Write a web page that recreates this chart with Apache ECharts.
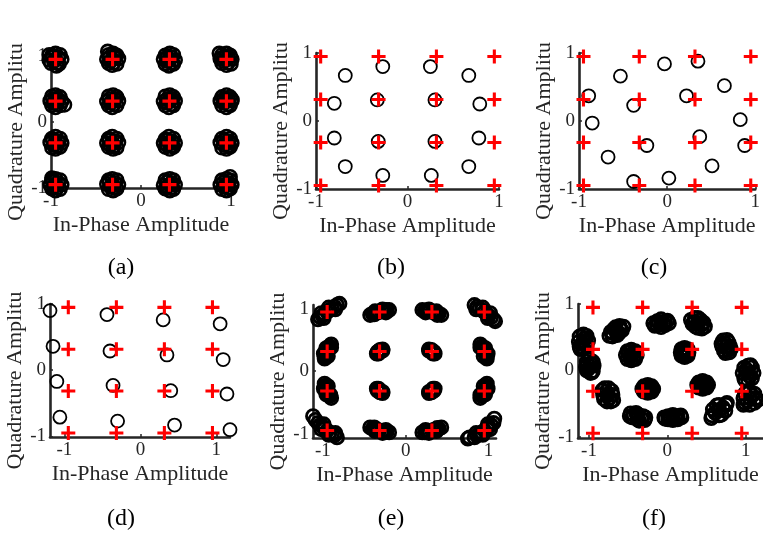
<!DOCTYPE html>
<html>
<head>
<meta charset="utf-8">
<script src="https://cdn.jsdelivr.net/npm/echarts@6/dist/echarts.min.js"></script>
<style>
html, body { margin: 0; padding: 0; background: #fff; }
#main { width: 763px; height: 533px; }
</style>
</head>
<body>
<div id="main"></div>
<script>
var tickValues = [-1, 0, 1];
var panelLabels = ['(a)', '(b)', '(c)', '(d)', '(e)', '(f)'];
var xTitle = 'In-Phase Amplitude';
var yTitle = 'Quadrature Amplitude';

// ideal 16-QAM constellation (red +)
var refPoints = [
    [-0.949, 0.949], [-0.316, 0.949], [0.316, 0.949], [0.949, 0.949],
    [-0.949, 0.316], [-0.316, 0.316], [0.316, 0.316], [0.949, 0.316],
    [-0.949, -0.316], [-0.316, -0.316], [0.316, -0.316], [0.949, -0.316],
    [-0.949, -0.949], [-0.316, -0.949], [0.316, -0.949], [0.949, -0.949]
];

// (a) received symbols, tight clusters
var rxA = [
    [-0.95,0.95],[-0.88,0.95],[-1.02,0.94],[-0.95,1.04],[-0.94,0.85],[-0.90,1.02],[-0.99,1.01],[-0.91,0.88],[-1.00,0.89],[-0.92,0.98],[-0.97,0.92],[-0.93,0.90],[-0.98,0.98],[-1.02,1.02],
    [-0.32,0.95],[-0.25,0.96],[-0.38,0.95],[-0.31,1.04],[-0.32,0.86],[-0.27,1.01],[-0.36,1.02],[-0.27,0.88],[-0.36,0.89],[-0.29,0.98],[-0.34,0.92],[-0.30,0.90],[-0.35,0.98],[-0.37,1.07],
    [0.32,0.95],[0.38,0.94],[0.25,0.95],[0.32,1.04],[0.31,0.85],[0.36,1.02],[0.27,1.01],[0.36,0.88],[0.27,0.88],[0.34,0.98],[0.29,0.92],[0.34,0.90],[0.29,0.98],
    [0.95,0.95],[1.01,0.95],[0.88,0.96],[0.95,1.04],[0.95,0.86],[0.99,1.01],[0.90,1.02],[1.00,0.88],[0.90,0.89],[0.97,0.98],[0.92,0.92],[0.97,0.90],[0.92,0.98],[0.87,1.04],
    [-0.95,0.32],[-0.88,0.31],[-1.01,0.32],[-0.95,0.41],[-0.95,0.22],[-0.90,0.38],[-0.99,0.39],[-0.90,0.25],[-0.99,0.25],[-0.92,0.35],[-0.97,0.29],[-0.93,0.27],[-0.98,0.35],[-0.85,0.26],
    [-0.32,0.32],[-0.25,0.32],[-0.38,0.31],[-0.31,0.41],[-0.32,0.22],[-0.27,0.38],[-0.36,0.39],[-0.27,0.25],[-0.36,0.25],[-0.29,0.35],[-0.34,0.29],[-0.30,0.27],[-0.35,0.35],
    [0.32,0.32],[0.38,0.32],[0.25,0.31],[0.32,0.41],[0.31,0.22],[0.36,0.38],[0.27,0.39],[0.36,0.25],[0.27,0.25],[0.34,0.35],[0.29,0.29],[0.34,0.27],[0.29,0.35],
    [0.95,0.32],[1.01,0.32],[0.88,0.32],[0.95,0.41],[0.95,0.22],[0.99,0.38],[0.90,0.38],[0.99,0.25],[0.90,0.25],[0.97,0.35],[0.92,0.29],[0.97,0.27],[0.92,0.35],[1.01,0.34],
    [-0.95,-0.32],[-0.88,-0.32],[-1.01,-0.31],[-0.95,-0.22],[-0.95,-0.41],[-0.90,-0.25],[-0.99,-0.25],[-0.90,-0.38],[-0.99,-0.39],[-0.92,-0.29],[-0.97,-0.35],[-0.93,-0.36],[-0.98,-0.28],
    [-0.32,-0.32],[-0.25,-0.31],[-0.38,-0.32],[-0.32,-0.22],[-0.31,-0.41],[-0.27,-0.25],[-0.36,-0.25],[-0.27,-0.39],[-0.36,-0.38],[-0.29,-0.29],[-0.34,-0.35],[-0.30,-0.36],[-0.35,-0.28],
    [0.32,-0.32],[0.38,-0.32],[0.25,-0.32],[0.31,-0.22],[0.32,-0.41],[0.36,-0.25],[0.27,-0.26],[0.36,-0.38],[0.27,-0.38],[0.34,-0.29],[0.29,-0.35],[0.34,-0.36],[0.29,-0.28],
    [0.95,-0.32],[1.01,-0.32],[0.88,-0.31],[0.95,-0.22],[0.95,-0.41],[0.99,-0.25],[0.90,-0.25],[0.99,-0.38],[0.90,-0.39],[0.97,-0.29],[0.92,-0.35],[0.97,-0.36],[0.92,-0.28],
    [-0.95,-0.95],[-0.88,-0.95],[-1.01,-0.95],[-0.95,-0.86],[-0.95,-1.04],[-0.90,-0.88],[-0.99,-0.88],[-0.90,-1.02],[-0.99,-1.01],[-0.92,-0.92],[-0.97,-0.98],[-0.93,-0.99],[-0.98,-0.91],[-0.99,-0.85],
    [-0.32,-0.95],[-0.25,-0.95],[-0.38,-0.94],[-0.32,-0.86],[-0.31,-1.04],[-0.27,-0.88],[-0.36,-0.88],[-0.27,-1.01],[-0.36,-1.02],[-0.29,-0.92],[-0.34,-0.98],[-0.30,-0.99],[-0.35,-0.91],
    [0.32,-0.95],[0.38,-0.95],[0.25,-0.96],[0.32,-0.86],[0.32,-1.04],[0.36,-0.88],[0.27,-0.88],[0.36,-1.02],[0.27,-1.01],[0.34,-0.92],[0.29,-0.98],[0.34,-0.99],[0.29,-0.91],
    [0.95,-0.95],[1.01,-0.95],[0.88,-0.95],[0.95,-0.86],[0.95,-1.04],[0.99,-0.88],[0.90,-0.88],[0.99,-1.01],[0.90,-1.02],[0.97,-0.92],[0.92,-0.98],[0.97,-0.99],[0.92,-0.91],[0.99,-0.83]
];

// (b)
var rxB = [
    [-0.68,0.67],[-0.27,0.80],[0.25,0.80],[0.67,0.67],
    [-0.80,0.26],[-0.33,0.31],[0.30,0.31],[0.79,0.25],
    [-0.80,-0.25],[-0.32,-0.30],[0.30,-0.30],[0.78,-0.25],
    [-0.68,-0.67],[-0.27,-0.80],[0.26,-0.80],[0.67,-0.67]
];

// (c)
var rxC = [
    [-0.03,0.84],[0.35,0.88],[-0.53,0.66],[0.65,0.52],
    [-0.89,0.37],[0.22,0.37],[-0.38,0.23],[-0.85,-0.03],
    [0.83,0.02],[0.37,-0.23],[-0.23,-0.36],[0.88,-0.36],
    [-0.67,-0.53],[0.51,-0.66],[-0.38,-0.89],[0.02,-0.84]
];

// (d)
var rxD = [
    [-1.19,0.90],[-0.44,0.84],[0.30,0.76],[1.05,0.70],
    [-1.15,0.36],[-0.40,0.29],[0.35,0.23],[1.09,0.16],
    [-1.10,-0.17],[-0.36,-0.23],[0.40,-0.31],[1.14,-0.36],
    [-1.06,-0.71],[-0.30,-0.77],[0.45,-0.83],[1.18,-0.90]
];

// (e) streaks along the phase direction
var rxE = [
    [1.06,0.83],[1.03,0.86],[1.00,0.89],[0.98,0.92],[0.95,0.95],[0.92,0.98],[0.89,1.00],[0.86,1.03],[0.83,1.06],[1.02,0.93],[0.93,1.02],[0.99,0.85],[0.85,0.99],[1.08,0.80],
    [0.43,0.90],[0.40,0.92],[0.37,0.93],[0.34,0.94],[0.32,0.95],[0.29,0.96],[0.26,0.97],[0.23,0.97],[0.20,0.98],[0.37,0.96],[0.28,0.99],[0.38,0.90],[0.24,0.94],
    [0.90,0.43],[0.92,0.40],[0.93,0.37],[0.94,0.34],[0.95,0.32],[0.96,0.29],[0.97,0.26],[0.97,0.23],[0.98,0.20],[0.96,0.37],[0.99,0.28],[0.90,0.38],[0.94,0.24],
    [0.35,0.28],[0.34,0.29],[0.33,0.30],[0.33,0.31],[0.32,0.32],[0.31,0.33],[0.30,0.33],[0.29,0.34],[0.28,0.35],[0.34,0.31],[0.31,0.34],[0.33,0.28],[0.28,0.33],
    [-1.06,0.83],[-1.03,0.86],[-1.00,0.89],[-0.98,0.92],[-0.95,0.95],[-0.92,0.98],[-0.89,1.00],[-0.86,1.03],[-0.83,1.06],[-1.02,0.93],[-0.93,1.02],[-0.99,0.85],[-0.85,0.99],[-0.80,1.08],
    [-0.43,0.90],[-0.40,0.92],[-0.37,0.93],[-0.34,0.94],[-0.32,0.95],[-0.29,0.96],[-0.26,0.97],[-0.23,0.98],[-0.20,0.98],[-0.37,0.96],[-0.28,0.99],[-0.38,0.91],[-0.24,0.94],
    [-0.90,0.43],[-0.92,0.40],[-0.93,0.37],[-0.94,0.34],[-0.95,0.32],[-0.96,0.29],[-0.97,0.26],[-0.97,0.23],[-0.98,0.20],[-0.96,0.37],[-0.99,0.28],[-0.90,0.38],[-0.94,0.24],
    [-0.35,0.28],[-0.34,0.29],[-0.33,0.30],[-0.33,0.31],[-0.32,0.32],[-0.31,0.33],[-0.30,0.33],[-0.29,0.34],[-0.28,0.35],[-0.34,0.31],[-0.31,0.34],[-0.33,0.28],[-0.28,0.33],
    [-1.06,-0.83],[-1.03,-0.86],[-1.00,-0.89],[-0.98,-0.92],[-0.95,-0.95],[-0.92,-0.98],[-0.89,-1.00],[-0.86,-1.03],[-0.83,-1.06],[-1.02,-0.93],[-0.93,-1.02],[-0.99,-0.85],[-0.85,-0.99],[-1.12,-0.72],[-1.09,-0.78],
    [-0.43,-0.90],[-0.40,-0.92],[-0.37,-0.93],[-0.34,-0.94],[-0.32,-0.95],[-0.29,-0.96],[-0.26,-0.97],[-0.23,-0.97],[-0.20,-0.98],[-0.37,-0.96],[-0.28,-0.99],[-0.38,-0.90],[-0.24,-0.94],
    [-0.90,-0.43],[-0.92,-0.40],[-0.93,-0.37],[-0.94,-0.34],[-0.95,-0.32],[-0.96,-0.29],[-0.97,-0.26],[-0.97,-0.23],[-0.98,-0.20],[-0.96,-0.37],[-0.99,-0.28],[-0.91,-0.38],[-0.94,-0.24],
    [-0.35,-0.28],[-0.34,-0.29],[-0.33,-0.30],[-0.33,-0.31],[-0.32,-0.32],[-0.31,-0.33],[-0.30,-0.33],[-0.29,-0.34],[-0.28,-0.35],[-0.34,-0.31],[-0.31,-0.34],[-0.33,-0.28],[-0.28,-0.33],
    [1.06,-0.83],[1.03,-0.86],[1.00,-0.89],[0.98,-0.92],[0.95,-0.95],[0.92,-0.98],[0.89,-1.00],[0.86,-1.03],[0.83,-1.06],[1.02,-0.93],[0.93,-1.02],[0.99,-0.85],[0.85,-0.99],[0.77,-1.06],[0.75,-1.08],[1.07,-0.76],
    [0.43,-0.90],[0.40,-0.92],[0.37,-0.93],[0.34,-0.94],[0.32,-0.95],[0.29,-0.96],[0.26,-0.97],[0.23,-0.98],[0.20,-0.98],[0.37,-0.96],[0.28,-0.99],[0.38,-0.91],[0.24,-0.94],
    [0.90,-0.43],[0.92,-0.40],[0.93,-0.37],[0.94,-0.34],[0.95,-0.32],[0.96,-0.29],[0.97,-0.26],[0.97,-0.23],[0.98,-0.20],[0.96,-0.37],[0.99,-0.28],[0.90,-0.38],[0.94,-0.24],
    [0.35,-0.28],[0.34,-0.29],[0.33,-0.30],[0.33,-0.31],[0.32,-0.32],[0.31,-0.33],[0.30,-0.33],[0.29,-0.34],[0.28,-0.35],[0.34,-0.31],[0.31,-0.34],[0.33,-0.28],[0.28,-0.33]
];

// (f) rotated, spread clusters
var rxF = [
    [-1.07,0.44],[-1.01,0.45],[-1.13,0.43],[-1.07,0.54],[-1.08,0.34],[-1.03,0.52],[-1.12,0.51],[-1.03,0.37],[-1.12,0.36],[-1.05,0.48],[-1.09,0.40],[-1.11,0.32],[-1.04,0.42],
    [-0.99,0.06],[-0.94,0.07],[-1.04,0.05],[-0.99,0.16],[-0.98,-0.04],[-0.95,0.13],[-1.03,0.13],[-0.95,-0.01],[-1.03,0.00],[-0.97,0.10],[-1.01,0.02],[-0.96,-0.03],[-1.02,0.09],
    [-0.65,0.59],[-0.74,0.52],[-0.56,0.66],[-0.70,0.56],[-0.60,0.63],[-0.68,0.62],[-0.62,0.56],[-0.72,0.58],[-0.58,0.60],[-0.66,0.65],[-0.64,0.53],[-0.61,0.67],[-0.70,0.51],
    [-0.08,0.71],[-0.18,0.71],[0.02,0.71],[-0.13,0.74],[-0.13,0.68],[-0.03,0.74],[-0.03,0.68],[-0.08,0.77],[-0.08,0.65],[-0.16,0.67],[0.00,0.75],[-0.11,0.72],[-0.05,0.70],
    [0.39,0.71],[0.30,0.76],[0.48,0.66],[0.34,0.74],[0.44,0.69],[0.36,0.66],[0.42,0.76],[0.32,0.70],[0.46,0.72],[0.39,0.79],[0.39,0.64],[0.35,0.79],[0.44,0.63],
    [0.75,0.36],[0.79,0.27],[0.71,0.45],[0.77,0.31],[0.73,0.41],[0.80,0.36],[0.70,0.36],[0.78,0.42],[0.72,0.30],[0.76,0.46],[0.74,0.26],[0.81,0.32],[0.69,0.40],
    [1.03,-0.04],[1.03,0.07],[1.03,-0.15],[0.96,-0.04],[1.10,-0.04],[0.98,0.04],[1.08,0.04],[0.98,-0.12],[1.08,-0.12],[1.01,0.01],[1.05,-0.09],[1.06,0.08],[0.99,-0.15],
    [1.05,-0.42],[1.13,-0.42],[0.97,-0.42],[1.05,-0.32],[1.05,-0.52],[1.11,-0.35],[0.99,-0.35],[1.11,-0.49],[0.99,-0.49],[1.08,-0.38],[1.02,-0.46],[0.97,-0.52],[1.15,-0.45],
    [0.66,-0.60],[0.57,-0.68],[0.75,-0.52],[0.61,-0.64],[0.71,-0.56],[0.63,-0.53],[0.69,-0.67],[0.58,-0.59],[0.74,-0.61],[0.66,-0.52],[0.66,-0.68],[0.56,-0.72],[0.76,-0.49],
    [0.07,-0.71],[-0.04,-0.71],[0.18,-0.71],[0.01,-0.69],[0.13,-0.69],[0.01,-0.74],[0.13,-0.74],[0.07,-0.67],[0.07,-0.75],[-0.03,-0.73],[0.17,-0.68],[0.04,-0.72],[0.10,-0.70],
    [-0.38,-0.70],[-0.47,-0.65],[-0.29,-0.75],[-0.43,-0.67],[-0.33,-0.73],[-0.40,-0.64],[-0.36,-0.76],[-0.45,-0.71],[-0.31,-0.69],[-0.38,-0.66],[-0.38,-0.74],[-0.48,-0.69],[-0.28,-0.71],
    [-0.76,-0.37],[-0.80,-0.27],[-0.72,-0.47],[-0.78,-0.32],[-0.74,-0.42],[-0.82,-0.37],[-0.70,-0.37],[-0.81,-0.43],[-0.71,-0.31],[-0.77,-0.47],[-0.75,-0.27],[-0.69,-0.45],[-0.83,-0.30],
    [-0.46,0.23],[-0.39,0.23],[-0.53,0.23],[-0.46,0.31],[-0.46,0.15],[-0.41,0.29],[-0.51,0.29],[-0.41,0.17],[-0.51,0.17],[-0.44,0.26],[-0.48,0.20],[-0.43,0.19],[-0.49,0.27],
    [0.22,0.27],[0.27,0.27],[0.17,0.27],[0.22,0.34],[0.22,0.20],[0.26,0.32],[0.18,0.32],[0.26,0.22],[0.18,0.22],[0.24,0.29],[0.20,0.25],[0.23,0.23],[0.21,0.31],
    [0.45,-0.22],[0.52,-0.22],[0.38,-0.22],[0.45,-0.16],[0.45,-0.28],[0.50,-0.18],[0.40,-0.18],[0.50,-0.26],[0.40,-0.26],[0.47,-0.20],[0.43,-0.24],[0.48,-0.25],[0.42,-0.19],
    [-0.25,-0.28],[-0.18,-0.28],[-0.32,-0.28],[-0.25,-0.22],[-0.25,-0.34],[-0.20,-0.24],[-0.30,-0.24],[-0.20,-0.32],[-0.30,-0.32],[-0.23,-0.26],[-0.27,-0.30],[-0.22,-0.31],[-0.28,-0.25]
];

var serif = "'Liberation Serif', 'Times New Roman', serif";
var axisColor = '#262626';
var plusPath = 'path://M3.9,0H6.1V3.9H10V6.1H6.1V10H3.9V6.1H0V3.9H3.9Z';

var panels = [
    {rx: rxA, ring: 2.6, grid: {left: 51, top: 56, width: 180, height: 132}, x: [-1, 1], y: [-1, 1], label: [121, 268]},
    {rx: rxB, ring: 1.8, grid: {left: 316, top: 53, width: 183, height: 136}, x: [-1, 1], y: [-1, 1], label: [391, 268]},
    {rx: rxC, ring: 1.8, grid: {left: 579, top: 53, width: 184, height: 136}, x: [-1, 1], y: [-1, 1], label: [654, 268]},
    {rx: rxD, ring: 1.8, grid: {left: 50, top: 304, width: 180, height: 133}, x: [-1.19, 1.18], y: [-1.01, 1.0], label: [121, 519]},
    {rx: rxE, ring: 2.8, grid: {left: 313, top: 305, width: 183, height: 133}, x: [-1.12, 1.09], y: [-1.07, 1.06], label: [391, 519]},
    {rx: rxF, ring: 2.8, grid: {left: 578, top: 304, width: 185, height: 134}, x: [-1.14, 1.22], y: [-1.02, 1.0], label: [654, 519]}
];

var grids = [], xAxes = [], yAxes = [], series = [], graphics = [];

panels.forEach(function (p, i) {
    grids.push(p.grid);
    xAxes.push({
        gridIndex: i, type: 'value', min: p.x[0], max: p.x[1],
        name: xTitle, nameLocation: 'middle', nameGap: 26,
        nameTextStyle: {fontFamily: serif, fontSize: 22, color: axisColor},
        axisLine: {show: true, onZero: false, lineStyle: {color: axisColor, width: 2.6}},
        axisTick: {show: true, inside: true, length: 3, customValues: tickValues, lineStyle: {color: axisColor, width: 1.5}},
        axisLabel: {customValues: tickValues, margin: 4, fontFamily: serif, fontSize: 19, color: axisColor},
        splitLine: {show: false}
    });
    yAxes.push({
        gridIndex: i, type: 'value', min: p.y[0], max: p.y[1],
        name: yTitle, nameLocation: 'middle', nameGap: 22,
        nameTextStyle: {fontFamily: serif, fontSize: 22, color: axisColor, padding: [0, 20, 0, 0]},
        nameTruncate: {maxWidth: 184, ellipsis: ''},
        axisLine: {show: true, onZero: false, lineStyle: {color: axisColor, width: 2.6}},
        axisTick: {show: true, inside: true, length: 3, customValues: tickValues, lineStyle: {color: axisColor, width: 1.5}},
        axisLabel: {customValues: tickValues, margin: 4, fontFamily: serif, fontSize: 19, color: axisColor},
        splitLine: {show: false}
    });
    series.push({
        type: 'scatter', xAxisIndex: i, yAxisIndex: i, data: p.rx,
        symbol: 'circle', symbolSize: 13, clip: false, silent: true,
        itemStyle: {color: 'transparent', borderColor: '#000', borderWidth: p.ring, opacity: 1}
    });
    series.push({
        type: 'scatter', xAxisIndex: i, yAxisIndex: i, data: refPoints,
        symbol: plusPath, symbolSize: 14, clip: false, silent: true,
        itemStyle: {color: '#ff0000', opacity: 1}
    });
    graphics.push({
        type: 'text', x: p.label[0], y: p.label[1],
        style: {text: panelLabels[i], align: 'center', verticalAlign: 'middle', fontFamily: serif, fontSize: 24, fill: '#000'}
    });
});

var myChart = echarts.init(document.getElementById('main'));
myChart.setOption({
    animation: false,
    backgroundColor: '#fff',
    grid: grids,
    xAxis: xAxes,
    yAxis: yAxes,
    series: series,
    graphic: graphics
});
</script>
</body>
</html>
